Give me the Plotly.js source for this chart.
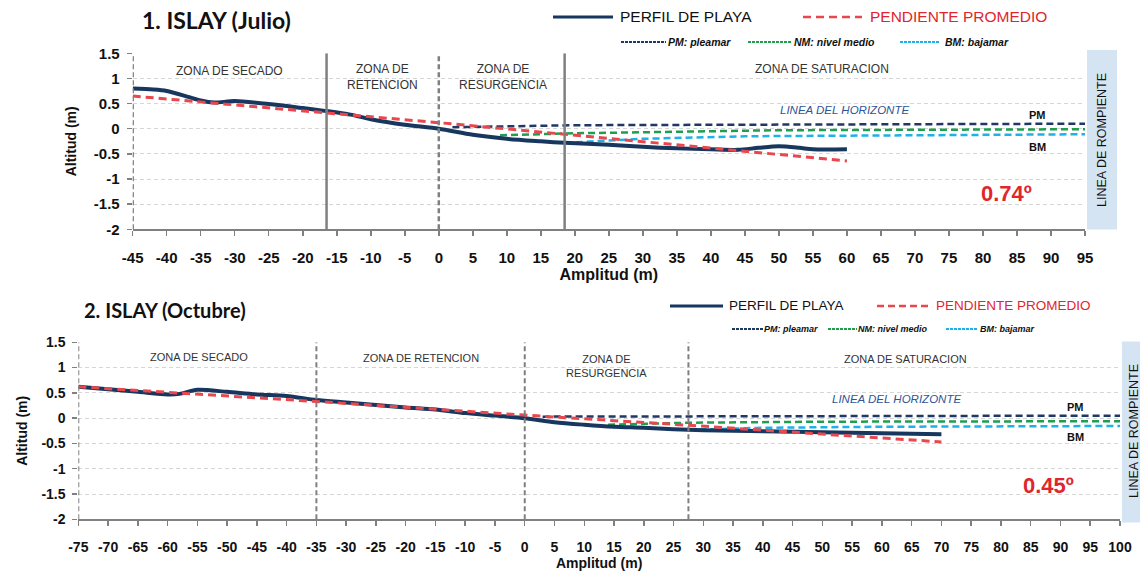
<!DOCTYPE html>
<html>
<head>
<meta charset="utf-8">
<script src="https://cdn.plot.ly/plotly-3.0.1.min.js"></script>
<style>html,body{margin:0;padding:0;background:#fff}#chart{width:1140px;height:574px}</style>
</head>
<body>
<div id="chart"></div>
<script>
// ---------- DATA ----------
// Chart 1: ISLAY (Julio)
const title1 = "1. ISLAY (Julio)";
const perfil1X = [-45,-42,-40,-37,-35,-33,-30,-25,-20,-16.5,-13,-10,-5,0,5,10,15,18.5,25,30,35,40,44,47,50,53,55,60];
const perfil1Y = [0.80,0.78,0.75,0.64,0.56,0.52,0.55,0.49,0.41,0.35,0.28,0.19,0.08,0.00,-0.12,-0.20,-0.25,-0.28,-0.32,-0.36,-0.39,-0.41,-0.42,-0.38,-0.35,-0.38,-0.41,-0.41];
const pend1X = [-45,-16.5,0,18.5,45,60];
const pend1Y = [0.65,0.32,0.12,-0.11,-0.45,-0.64];
const pm1X = [2,20,95];   const pm1Y = [0.03,0.07,0.10];
const nm1X = [9,20,50,95]; const nm1Y = [-0.13,-0.09,-0.03,-0.01];
const bm1X = [18.5,30,45,95]; const bm1Y = [-0.28,-0.20,-0.15,-0.11];
const zonas1 = [-45,-16.5,0,18.5];
const angulo1 = "0.74º";
const xTicks1 = [-45,-40,-35,-30,-25,-20,-15,-10,-5,0,5,10,15,20,25,30,35,40,45,50,55,60,65,70,75,80,85,90,95];

// Chart 2: ISLAY (Octubre)
const title2 = "2. ISLAY (Octubre)";
const perfil2X = [-75,-70,-65,-60,-58,-55,-50,-45,-40,-35,-30,-25,-20,-15,-10,-5,0,5,10,15,20,25,30,35,40,50,60,70];
const perfil2Y = [0.62,0.57,0.52,0.47,0.48,0.56,0.52,0.47,0.44,0.36,0.31,0.26,0.21,0.17,0.10,0.05,0.00,-0.08,-0.13,-0.17,-0.19,-0.22,-0.24,-0.25,-0.26,-0.28,-0.30,-0.32];
const pend2X = [-75,-35,0,27.5,70];
const pend2Y = [0.62,0.33,0.06,-0.14,-0.47];
const pm2X = [3,100];  const pm2Y = [0.03,0.05];
const nm2X = [14,27.5,50,100]; const nm2Y = [-0.13,-0.09,-0.07,-0.06];
const bm2X = [27.5,40,60,100]; const bm2Y = [-0.23,-0.19,-0.17,-0.155];
const zonas2 = [-75,-35,0,27.5];
const angulo2 = "0.45º";
const xTicks2 = [-75,-70,-65,-60,-55,-50,-45,-40,-35,-30,-25,-20,-15,-10,-5,0,5,10,15,20,25,30,35,40,45,50,55,60,65,70,75,80,85,90,95,100];

const yTicks = [-2,-1.5,-1,-0.5,0,0.5,1,1.5];
const yTickText = ["-2","-1.5","-1","-0.5","0","0.5","1","1.5"];

// ---------- STYLE / LAYOUT ----------
const W = 1140, H = 574;
const px = v => v / W, py = v => 1 - v / H;
const NARROW = "Liberation Sans, Arial, sans-serif";
const ARIAL = "Liberation Sans, Arial, sans-serif";
const C_PERFIL = "#17375e", C_PEND = "#e8474d", C_PM = "#1f3864", C_NM = "#1e9e4e", C_BM = "#1eb0e8";
const GREY = "#808080";

function tickText(arr){ return arr.map(v => String(v)); }

const traces = [];
function addSet(xa, ya, d){
  traces.push({x:d.pmX, y:d.pmY, xaxis:xa, yaxis:ya, mode:'lines', line:{color:C_PM, width:2.5, dash:'7px,4px'}, hoverinfo:'skip', showlegend:false});
  traces.push({x:d.nmX, y:d.nmY, xaxis:xa, yaxis:ya, mode:'lines', line:{color:C_NM, width:2.5, dash:'7px,4px'}, hoverinfo:'skip', showlegend:false});
  traces.push({x:d.bmX, y:d.bmY, xaxis:xa, yaxis:ya, mode:'lines', line:{color:C_BM, width:2.5, dash:'7px,4px'}, hoverinfo:'skip', showlegend:false});
  traces.push({x:d.pX, y:d.pY, xaxis:xa, yaxis:ya, mode:'lines', line:{color:C_PERFIL, width:4, shape:'spline', smoothing:0.8}, name:'PERFIL DE PLAYA', showlegend:false});
  traces.push({x:d.rX, y:d.rY, xaxis:xa, yaxis:ya, mode:'lines', line:{color:C_PEND, width:3, dash:'8px,5px'}, name:'PENDIENTE PROMEDIO', showlegend:false});
}
addSet('x','y',{pmX:pm1X,pmY:pm1Y,nmX:nm1X,nmY:nm1Y,bmX:bm1X,bmY:bm1Y,pX:perfil1X,pY:perfil1Y,rX:pend1X,rY:pend1Y});
addSet('x2','y2',{pmX:pm2X,pmY:pm2Y,nmX:nm2X,nmY:nm2Y,bmX:bm2X,bmY:bm2Y,pX:perfil2X,pY:perfil2Y,rX:pend2X,rY:pend2Y});

function xAxis(domain, range, ticks, anchor, fs, titleSize){
  return {domain, range, anchor, tickmode:'array', tickvals:ticks, ticktext:tickText(ticks),
    ticks:'outside', ticklen:5, tickcolor:GREY, tickwidth:1.5, showline:true, linecolor:GREY, linewidth:1.5,
    showgrid:false, zeroline:false, ticklabelstandoff:9,
    tickfont:{family:ARIAL, size:fs, color:'#111', weight:'bold'},
    title:{text:'<b>Amplitud (m)</b>', font:{family:ARIAL, size:titleSize, color:'#111'}, standoff:1},
    fixedrange:true, automargin:false};
}
function yAxis(domain, anchor, fs, standoff){
  return {domain, range:[-2,1.5], anchor, tickmode:'array', tickvals:yTicks, ticktext:yTickText,
    ticks:'outside', ticklen:5, tickcolor:GREY, tickwidth:1.5, showline:false,
    showgrid:true, gridcolor:'#d6d6d6', griddash:'4px,3px', gridwidth:1, zeroline:false, ticklabelstandoff:4,
    tickfont:{family:ARIAL, size:fs, color:'#111', weight:'bold'},
    title:{text:'<b>Altitud (m)</b>', font:{family:ARIAL, size:14, color:'#111'}, standoff:standoff},
    fixedrange:true, automargin:false};
}

const shapes = [];
const annotations = [];

// zone boundaries
const solid1 = [false,true,false,true];
zonas1.forEach((z,i)=>shapes.push({type:'line', xref:'x', yref:'y', x0:z, x1:z, y0:-2, y1:1.5,
  line:{color:GREY, width:2.5, dash: solid1[i] ? 'solid' : '5px,3px'}}));
zonas2.forEach((z)=>shapes.push({type:'line', xref:'x2', yref:'y2', x0:z, x1:z, y0:-2, y1:1.5,
  line:{color:GREY, width:2, dash:'5px,3px'}}));

// rompiente boxes
shapes.push({type:'rect', xref:'paper', yref:'paper', x0:px(1087), x1:px(1117), y0:py(229.5), y1:py(50), fillcolor:'#d5e4f2', line:{width:0}, layer:'below'});
shapes.push({type:'rect', xref:'paper', yref:'paper', x0:px(1122), x1:px(1146), y0:py(522.5), y1:py(341.5), fillcolor:'#d5e4f2', line:{width:0}, layer:'below'});
function pa(x, y, t, font, extra){ annotations.push(Object.assign({xref:'paper', yref:'paper', x:px(x), y:py(y), xanchor:'center', yanchor:'middle', text:t, showarrow:false, font}, extra||{})); }
pa(1102, 140, 'LINEA DE ROMPIENTE', {family:NARROW, size:12.5, color:'#111'}, {textangle:-90});
pa(1134, 431, 'LINEA DE ROMPIENTE', {family:NARROW, size:12.5, color:'#111'}, {textangle:-90});

// titles
pa(216, 20, '<b>'+title1+'</b>', {family:'Lato, sans-serif', size:23, color:'#111'});
pa(165, 310, '<b>'+title2+'</b>', {family:'Lato, sans-serif', size:20, color:'#111'});

// zone labels
function zl(xr, yr, x, y, t, fs){ annotations.push({xref:xr, yref:yr, x, y, xanchor:'center', yanchor:'middle', text:t, showarrow:false, font:{family:NARROW, size:fs, color:'#333'}, align:'center'}); }
zl('x','y',-30.7,1.15,'ZONA DE SECADO',12);
zl('x','y',-8.3,1.02,'ZONA DE<br>RETENCION',12);
zl('x','y',9.4,1.03,'ZONA DE<br>RESURGENCIA',12);
zl('x','y',56.4,1.18,'ZONA DE SATURACION',12);
zl('x2','y2',-54.7,1.2,'ZONA DE SECADO',11);
zl('x2','y2',-17.4,1.18,'ZONA DE RETENCION',11);
zl('x2','y2',13.8,1.04,'ZONA DE<br>RESURGENCIA',11);
zl('x2','y2',64,1.16,'ZONA DE SATURACION',11);

function hz(xr, yr, x, y, fs){ annotations.push({xref:xr, yref:yr, x, y, text:'<i>LINEA DEL HORIZONTE</i>', showarrow:false, font:{family:NARROW, size:fs, color:'#2f5597'}}); }
hz('x','y',59.6,0.37,11.5); hz('x2','y2',62.5,0.37,11.5);
function lbl(xr, yr, x, y, t){ annotations.push({xref:xr, yref:yr, x, y, text:'<b>'+t+'</b>', showarrow:false, font:{family:NARROW, size:11, color:'#111'}}); }
lbl('x','y',88,0.27,'PM'); lbl('x','y',88,-0.36,'BM');
lbl('x2','y2',92.5,0.23,'PM'); lbl('x2','y2',92.5,-0.38,'BM');
annotations.push({xref:'x', yref:'y', x:83.5, y:-1.28, text:'<b>'+angulo1+'</b>', showarrow:false, font:{family:NARROW, size:22, color:'#e0262c'}});
annotations.push({xref:'x2', yref:'y2', x:88, y:-1.34, text:'<b>'+angulo2+'</b>', showarrow:false, font:{family:NARROW, size:22, color:'#e0262c'}});

// custom legends
function legLine(x0, x1, y, color, width, dash){ shapes.push({type:'line', xref:'paper', yref:'paper', x0:px(x0), x1:px(x1), y0:py(y), y1:py(y), line:{color, width, dash}}); }
function legText(x, y, t, fs, color){ annotations.push({xref:'paper', yref:'paper', x:px(x), y:py(y), xanchor:'left', yanchor:'middle', text:t, showarrow:false, font:{family:NARROW, size:fs, color}}); }
// top legend
legLine(553,613,17,C_PERFIL,3,'solid'); legText(618,17,'PERFIL DE PLAYA',15.5,'#111');
legLine(803,862,17,C_PEND,2.5,'8px,5px'); legText(868,17,'PENDIENTE PROMEDIO',15.5,'#e0262c');
legLine(621,666,42,C_PM,2,'3px,1px'); legText(666,42,'<b><i>PM: pleamar</i></b>',10.5,'#111');
legLine(748,792,42,C_NM,2,'3px,1px'); legText(792,42,'<b><i>NM: nivel medio</i></b>',10.5,'#111');
legLine(900,940,42,C_BM,2,'3px,1px'); legText(943,42,'<b><i>BM: bajamar</i></b>',10.5,'#111');
// bottom legend
legLine(670,723,306,C_PERFIL,3,'solid'); legText(727,306,'PERFIL DE PLAYA',13.5,'#111');
legLine(877,930,306,C_PEND,2.5,'7px,4px'); legText(934,306,'PENDIENTE PROMEDIO',13.5,'#e0262c');
legLine(732,763,329,C_PM,2,'3px,1px'); legText(762,329,'<b><i>PM: pleamar</i></b>',9,'#111');
legLine(828,857,329,C_NM,2,'3px,1px'); legText(856,329,'<b><i>NM: nivel medio</i></b>',9,'#111');
legLine(946,978,329,C_BM,2,'3px,1px'); legText(978,329,'<b><i>BM: bajamar</i></b>',9,'#111');

const layout = {
  width:W, height:H, margin:{l:0,r:0,t:0,b:0}, paper_bgcolor:'#fff', plot_bgcolor:'rgba(0,0,0,0)',
  showlegend:false,
  xaxis: xAxis([px(132.7), px(1085)], [-45,95], xTicks1, 'y', 15, 16),
  yaxis: yAxis([py(229.3), py(53.3)], 'x', 15, 13),
  xaxis2: xAxis([px(78.3), px(1120)], [-75,100], xTicks2, 'y2', 14, 14),
  yaxis2: yAxis([py(519.3), py(342.3)], 'x2', 14, 10),
  shapes, annotations
};
Plotly.newPlot('chart', traces, layout, {displayModeBar:false, staticPlot:true});
</script>
</body>
</html>
